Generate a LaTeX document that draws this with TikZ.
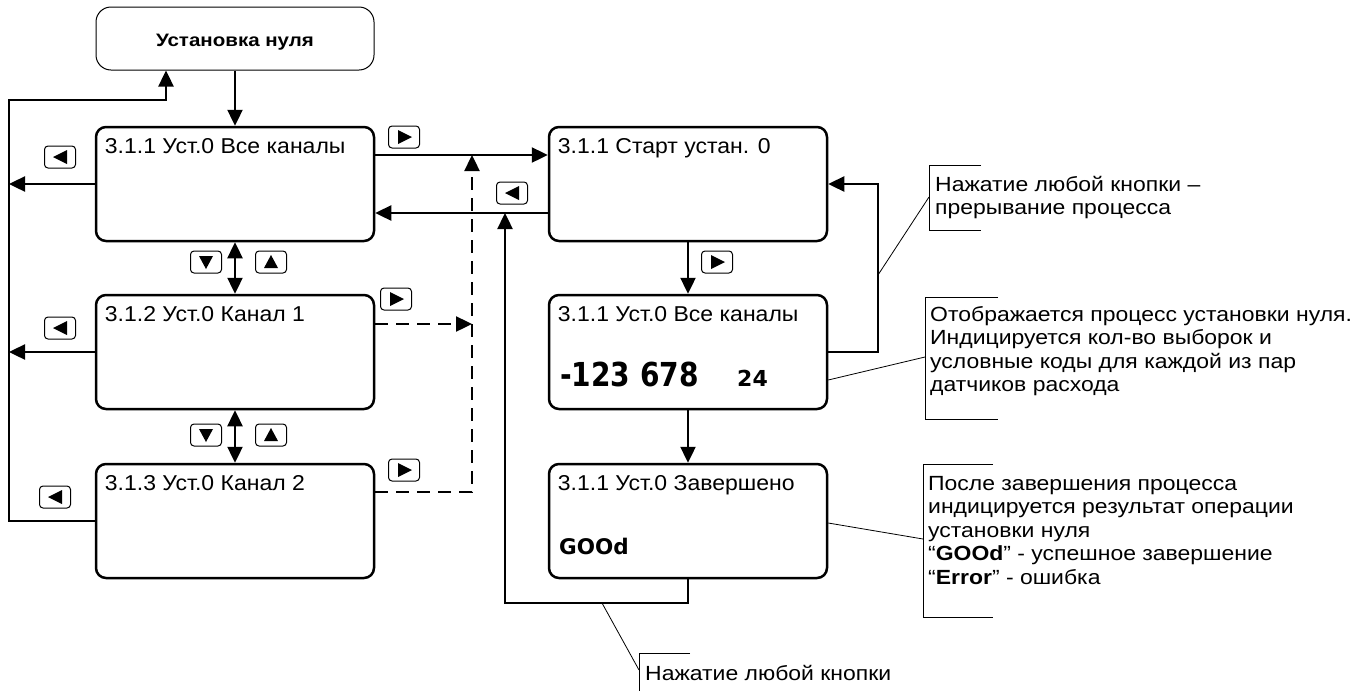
\documentclass[tikz,border=0pt]{standalone}
\usepackage{fontspec}
\setmainfont{Liberation Sans}
\newfontfamily\dvfont{DejaVu Sans}
\usetikzlibrary{arrows.meta}
\newcommand{\notetext}[1]{\scalebox{1.12}[1]{\fontsize{20.5}{23.5}\selectfont\begin{tabular}[t]{@{}l@{}}#1\end{tabular}}}
\newcommand{\scrtext}[1]{\scalebox{1.07}[1]{\fontsize{21.5}{24}\selectfont #1}}
\begin{document}
\begin{tikzpicture}[x=1pt,y=-1pt,
  scr/.style={draw, line width=2.5pt, rounded corners=10pt, minimum width=278pt, minimum height=114pt, inner sep=0pt},
  topbox/.style={draw, line width=1pt, rounded corners=15pt, minimum width=278pt, minimum height=63pt, inner sep=0pt},
  arr/.style={line width=2.4pt, -{Triangle[length=16pt,width=15pt]}},
  darr/.style={line width=2.4pt, {Triangle[length=16pt,width=15pt]}-{Triangle[length=16pt,width=15pt]}},
  dashline/.style={line width=2.4pt, dash pattern=on 13pt off 8pt},
  thinl/.style={line width=0.8pt},
  btn/.style={draw, line width=1pt, rounded corners=3.5pt, minimum width=31pt, minimum height=22pt, inner sep=0pt},
  lbl/.style={anchor=base west, inner sep=0pt},
  note/.style={anchor=base west, inner sep=0pt}
]
\useasboundingbox (0,0) rectangle (1368,691);
\fill[white] (0,0) rectangle (1368,691);

% top box
\node[topbox] (top) at (235,38.5) {};
\node[anchor=base, inner sep=0pt] (toptxt) at (235,46) {\scalebox{1.14}[1]{\fontsize{18}{20}\selectfont\bfseries Установка нуля}};

% left screens
\node[scr] (b1) at (235,184) {};
\node[scr] (b2) at (235,352) {};
\node[scr] (b3) at (235,521) {};
\node[lbl] (b1t) at ([shift={(10pt,-28pt)}]b1.north west) {\scrtext{3.1.1 Уст.0 Все каналы}};
\node[lbl] (b2t) at ([shift={(10pt,-28pt)}]b2.north west) {\scrtext{3.1.2 Уст.0 Канал 1}};
\node[lbl] (b3t) at ([shift={(10pt,-28pt)}]b3.north west) {\scrtext{3.1.3 Уст.0 Канал 2}};

% right screens
\node[scr] (s1) at (688,184) {};
\node[scr] (s2) at (688,352) {};
\node[scr] (s3) at (688,521) {};
\node[lbl] (s1t) at ([shift={(10pt,-28pt)}]s1.north west) {\scrtext{3.1.1 Старт устан. 0}};
\node[lbl] (s2t) at ([shift={(10pt,-28pt)}]s2.north west) {\scrtext{3.1.1 Уст.0 Все каналы}};
\node[lbl] (s3t) at ([shift={(10pt,-28pt)}]s3.north west) {\scrtext{3.1.1 Уст.0 Завершено}};
\node[anchor=base west, inner sep=0pt] (num1) at (560,386) {\scalebox{0.85}[1]{\dvfont\bfseries\fontsize{33}{33}\selectfont -123 678}};
\node[anchor=base west, inner sep=0pt, font=\dvfont\bfseries\fontsize{22}{22}\selectfont] (num2) at (737,386) {24};
\node[anchor=base west, inner sep=0pt, font=\dvfont\bfseries\fontsize{21.5}{22}\selectfont] (good) at (559,554) {GOOd};

% coordinates
\coordinate (L1) at (9,184);
\coordinate (L2) at (9,352);
\coordinate (LB) at (9,521);
\coordinate (LT) at (9,100);
\coordinate (LU) at (166,100);
\coordinate (D1) at (472,155);
\coordinate (D2) at (472,324);
\coordinate (D3) at (472,492);
\coordinate (V1) at (505,213);
\coordinate (V2) at (505,603);
\coordinate (V3) at (688,603);
\coordinate (R1) at (878,352);
\coordinate (R2) at (878,184);

% connectors
\draw[arr] (top.south) -- (b1.north);
\draw[darr] (b1.south) -- (b2.north);
\draw[darr] (b2.south) -- (b3.north);
\draw[arr] (b1.west) -- (L1);
\draw[arr] (b2.west) -- (L2);
\draw[arr] (b3.west) -- (LB) -- (LT) -- (LU) -- (LU |- top.south);
\draw[arr] ([yshift=29pt]b1.east) -- ([yshift=29pt]s1.west);
\draw[arr] ([yshift=-29pt]s1.west) -- ([yshift=-29pt]b1.east);
\draw[dashline, -{Triangle[length=16pt,width=15pt]}] ([yshift=28pt]b2.east) -- (D2);
\draw[dashline, -{Triangle[length=16pt,width=15pt]}] ([yshift=29pt]b3.east) -- (D3) -- (D1);
\draw[arr] (s1.south) -- (s2.north);
\draw[arr] (s2.south) -- (s3.north);
\draw[arr] (s3.south) -- (V3) -- (V2) -- (V1);
\draw[arr] (s2.east) -- (R1) -- (R2) -- (s1.east);

% buttons
\node[btn] (k1) at (60,157) {};
\node[btn] (k2) at (60,328) {};
\node[btn] (k3) at (55,497) {};
\node[btn] (k4) at (404,137) {};
\node[btn] (k5) at (396,299) {};
\node[btn] (k6) at (404,470) {};
\node[btn] (k7) at (512,193) {};
\node[btn] (k8) at (717,262) {};
\node[btn] (k9) at (206,262) {};
\node[btn] (k10) at (271,262) {};
\node[btn] (k11) at (206,435) {};
\node[btn] (k12) at (271,435) {};
\foreach \k in {k4,k5,k6,k8}
  \fill ([shift={(-6pt,7pt)}]\k.center) -- ++(14pt,-7pt) -- ++(-14pt,-7pt) -- cycle;
\foreach \k in {k1,k2,k3,k7}
  \fill ([shift={(7pt,7pt)}]\k.center) -- ++(-14pt,-7pt) -- ++(14pt,-7pt) -- cycle;
\foreach \k in {k10,k12}
  \fill ([shift={(-7pt,-6pt)}]\k.center) -- ++(14pt,0pt) -- ++(-7pt,13pt) -- cycle;
\foreach \k in {k9,k11}
  \fill ([shift={(-7pt,6pt)}]\k.center) -- ++(14pt,0pt) -- ++(-7pt,-13pt) -- cycle;

% callouts
\node[note] (c1) at (935,191) {\notetext{Нажатие любой кнопки –\\прерывание процесса}};
\draw[thinl] (981,165) -- (929,165) -- (929,230) -- (981,230);
\coordinate (c1a) at (878,275);
\coordinate (c1b) at (929,197);
\draw[thinl] (c1a) -- (c1b);

\node[note] (c2) at (930,321) {\notetext{Отображается процесс установки нуля.\\Индицируется кол-во выборок и\\условные коды для каждой из пар\\датчиков расхода}};
\draw[thinl] (998,297) -- (925,297) -- (925,419) -- (998,419);
\coordinate (c2b) at (925,357);
\draw[thinl] ([yshift=-28pt]s2.east) -- (c2b);

\node[note] (c3) at (928,490) {\notetext{После завершения процесса\\индицируется результат операции\\установки нуля\\“\textbf{GOOd}” - успешное завершение\\“\textbf{Error}” - ошибка}};
\draw[thinl] (993,464) -- (923,464) -- (923,617) -- (993,617);
\coordinate (c3b) at (923,539);
\draw[thinl] ([yshift=-2pt]s3.east) -- (c3b);

\node[note] (c4) at (645,680) {\notetext{Нажатие любой кнопки}};
\draw[thinl] (690,653) -- (639,653) -- (639,691);
\coordinate (c4a) at (602,603);
\coordinate (c4b) at (639,670);
\draw[thinl] (c4a) -- (c4b);
\end{tikzpicture}
\end{document}
